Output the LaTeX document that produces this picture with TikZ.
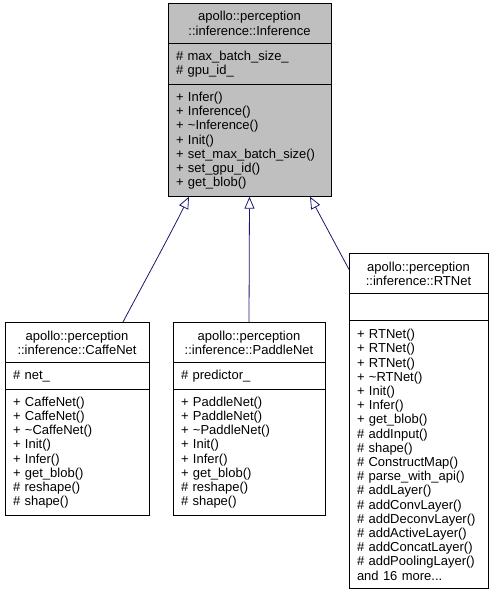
\documentclass[tikz,border=0pt]{standalone}
\usepackage{fontspec}
\setsansfont{Liberation Sans}
\usepackage{tikz}
\usetikzlibrary{arrows.meta, positioning}

\definecolor{edgeblue}{HTML}{191970}
\definecolor{basegray}{HTML}{BFBFBF}

\begin{document}
\begin{tikzpicture}[
    x=1pt, y=-1pt,
    umlpart/.style={rectangle, draw=black, line width=0.9pt, inner xsep=8pt, inner ysep=0pt, outer sep=0pt, font=\sffamily\fontsize{13}{14.2}\selectfont},
    classname/.style={umlpart, align=center, minimum height=40.9pt},
    members/.style={umlpart, align=left},
    baseclass/.style={fill=basegray},
    arrow/.style={edgeblue, line width=0.8pt, -{Triangle[open, length=12pt, width=10pt]}}
]
\useasboundingbox (0,0) rectangle (493,595);

\node (inft) [classname, baseclass, text width=147pt, anchor=north west] at (168,3) {apollo::perception\\::inference::Inference};
\node (infa) [members, baseclass, text width=147pt, minimum height=40.9pt, below=0pt of inft] {\# max\_batch\_size\_\\\# gpu\_id\_};
\node (infm) [members, baseclass, text width=147pt, minimum height=111.9pt, below=0pt of infa] {+ Infer()\\+ Inference()\\+ \textasciitilde Inference()\\+ Init()\\+ set\_max\_batch\_size()\\+ set\_gpu\_id()\\+ get\_blob()};

\node (caft) [classname, text width=128pt, anchor=north west] at (5,322) {apollo::perception\\::inference::CaffeNet};
\node (cafa) [members, text width=128pt, minimum height=26.7pt, below=0pt of caft] {\# net\_};
\node (cafm) [members, text width=128pt, minimum height=126.1pt, below=0pt of cafa] {+ CaffeNet()\\+ CaffeNet()\\+ \textasciitilde CaffeNet()\\+ Init()\\+ Infer()\\+ get\_blob()\\\# reshape()\\\# shape()};

\node (padt) [classname, text width=136pt, anchor=north west] at (173,322) {apollo::perception\\::inference::PaddleNet};
\node (pada) [members, text width=136pt, minimum height=26.7pt, below=0pt of padt] {\# predictor\_};
\node (padm) [members, text width=136pt, minimum height=126.1pt, below=0pt of pada] {+ PaddleNet()\\+ PaddleNet()\\+ \textasciitilde PaddleNet()\\+ Init()\\+ Infer()\\+ get\_blob()\\\# reshape()\\\# shape()};

\node (rtt) [classname, text width=123pt, anchor=north west] at (349,253) {apollo::perception\\::inference::RTNet};
\node (rta) [members, text width=123pt, minimum height=26.7pt, below=0pt of rtt] {};
\node (rtm) [members, text width=123pt, minimum height=268.1pt, below=0pt of rta] {+ RTNet()\\+ RTNet()\\+ RTNet()\\+ \textasciitilde RTNet()\\+ Init()\\+ Infer()\\+ get\_blob()\\\# addInput()\\\# shape()\\\# ConstructMap()\\\# parse\_with\_api()\\\# addLayer()\\\# addConvLayer()\\\# addDeconvLayer()\\\# addActiveLayer()\\\# addConcatLayer()\\\# addPoolingLayer()\\and 16 more...};

\draw [arrow] ([xshift=46pt]caft.north) .. controls (140,290) and (170,235) .. ([xshift=-60.5pt]infm.south);
\draw [arrow] (padt.north) -- (infm.south);
\draw [arrow] ([yshift=4pt]rtt.west) -- ([xshift=60.5pt]infm.south);

\end{tikzpicture}
\end{document}
